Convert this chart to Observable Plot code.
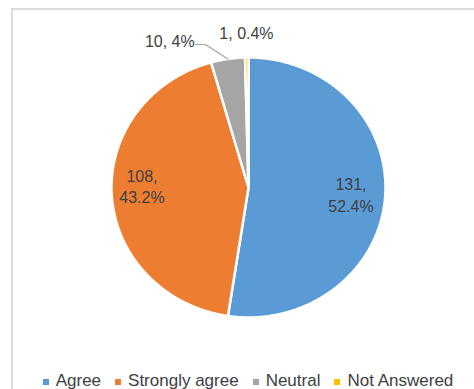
<!DOCTYPE html>
<html>
<head>
<meta charset="utf-8">
<script src="https://cdn.jsdelivr.net/npm/d3@7"></script>
<script src="https://cdn.jsdelivr.net/npm/@observablehq/plot@0.6"></script>
<style>
  html, body { margin: 0; padding: 0; background: #fff; overflow: hidden; }
  #frame {
    position: absolute; left: 11px; top: 8px; right: -4px; bottom: -4px;
    border-left: 2px solid #dcdcdc; border-top: 2px solid #dcdcdc;
    pointer-events: none;
  }
  #chart { position: relative; width: 474px; }
  #legend {
    display: flex; justify-content: center; align-items: center;
    height: 19px; margin-left: 22px;
    font-family: "Liberation Sans", Arial, sans-serif; font-size: 17px; color: #404040;
    white-space: nowrap;
  }
  #legend .item { display: flex; align-items: center; margin: 0 7px; }
  #legend .sw { width: 6px; height: 6px; margin-right: 7px; margin-top: 2px; }
</style>
</head>
<body>
<div id="frame"></div>
<div id="chart"></div>
<script>
// Survey responses
const categories = ["Agree", "Strongly agree", "Neutral", "Not Answered"];
const counts = [131, 108, 10, 1];
const percentLabels = ["52.4%", "43.2%", "4%", "0.4%"];
const colors = ["#5b9bd5", "#ed7d31", "#a5a5a5", "#ffc000"];

const total = d3.sum(counts);

// Slice angles, clockwise from 12 o'clock
let acc = 0;
const slices = categories.map((key, i) => {
  const a0 = (acc / total) * 2 * Math.PI;
  acc += counts[i];
  const a1 = (acc / total) * 2 * Math.PI;
  return {key, count: counts[i], pct: percentLabels[i], a0, a1, mid: (a0 + a1) / 2};
});

const polar = (a, r) => ({x: r * Math.sin(a), y: r * Math.cos(a)});

// Outline of each wedge: centre, then points along the arc
const wedgePoints = slices.flatMap((s) => {
  const n = Math.max(2, Math.ceil((s.a1 - s.a0) / (Math.PI / 360)));
  const pts = [{key: s.key, x: 0, y: 0}];
  for (let k = 0; k <= n; ++k) {
    const p = polar(s.a0 + ((s.a1 - s.a0) * k) / n, 1);
    pts.push({key: s.key, ...p});
  }
  pts.push({key: s.key, x: 0, y: 0});
  return pts;
});

// Labels inside the two large wedges
const insideLabel = (s) => [{...polar(s.mid, 0.75), text: `${s.count},\n${s.pct}`}];
const agreeLabel = insideLabel(slices[0]);
const stronglyLabel = insideLabel(slices[1]);

// Callout for the Neutral wedge
const neutral = slices[2];
const edge = polar(neutral.mid, 1.0);
const elbow = {x: edge.x - 0.165, y: 1.1};
const tail = {x: elbow.x - 0.07, y: 1.1};
const leader = [edge, elbow, tail];
const neutralLabel = [{...tail, text: `${neutral.count}, ${neutral.pct}`}];

// Label above the Not Answered sliver
const na = slices[3];
const naLabel = [{...polar(na.mid, 1.18), text: `${na.count}, ${na.pct}`}];

const font = "Liberation Sans, Arial, sans-serif";
const ink = "#404040";

const plot = Plot.plot({
  width: 474,
  height: 371,
  margin: 0,
  style: {background: "transparent", fontFamily: font},
  x: {domain: [-1, 1], range: [111, 385], axis: null},
  y: {domain: [-1, 1], range: [317, 57], axis: null},
  color: {domain: categories, range: colors},
  marks: [
    Plot.line(wedgePoints, {x: "x", y: "y", z: "key", fill: "key", stroke: "white", strokeWidth: 2.5, strokeLinejoin: "round", curve: "linear"}),
    Plot.line(leader, {x: "x", y: "y", stroke: "#a6a6a6", strokeWidth: 1.2}),
    Plot.text(agreeLabel, {x: "x", y: "y", text: "text", fontSize: 16, lineHeight: 1.35, fill: ink, dy: -1}),
    Plot.text(stronglyLabel, {x: "x", y: "y", text: "text", fontSize: 16, lineHeight: 1.35, fill: ink, dx: -4, dy: -8}),
    Plot.text(neutralLabel, {x: "x", y: "y", text: "text", fontSize: 16, textAnchor: "end", dx: -1, dy: -3, fill: ink}),
    Plot.text(naLabel, {x: "x", y: "y", text: "text", fontSize: 16, fill: ink})
  ]
});

const chart = document.getElementById("chart");
chart.appendChild(plot);

// Legend below the pie
const legend = document.createElement("div");
legend.id = "legend";
categories.forEach((c, i) => {
  const item = document.createElement("span");
  item.className = "item";
  const sw = document.createElement("span");
  sw.className = "sw";
  sw.style.background = colors[i];
  item.appendChild(sw);
  item.appendChild(document.createTextNode(c));
  legend.appendChild(item);
});
chart.appendChild(legend);
</script>
</body>
</html>
